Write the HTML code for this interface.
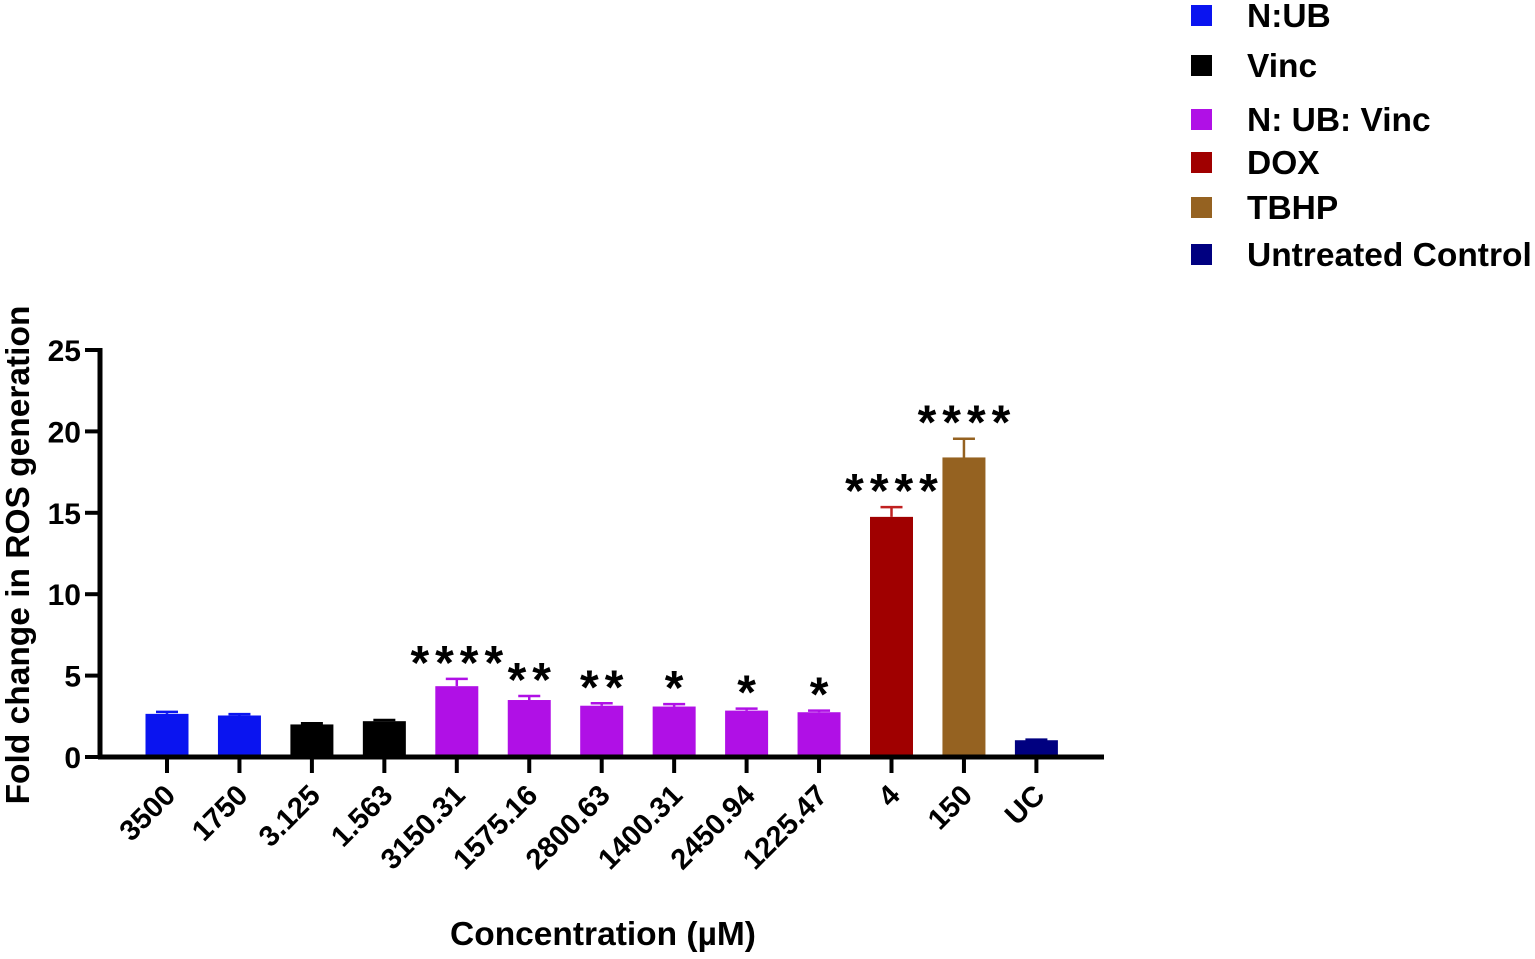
<!DOCTYPE html>
<html><head><meta charset="utf-8">
<style>
body{margin:0;background:#fff;width:1535px;height:954px;overflow:hidden;font-family:"Liberation Sans",sans-serif;}
svg text{font-family:"Liberation Sans",sans-serif;font-weight:bold;fill:#000;}
</style></head>
<body>
<svg id="chart" width="1535" height="954" xmlns="http://www.w3.org/2000/svg"></svg>
<script>
const categories=["3500","1750","3.125","1.563","3150.31","1575.16","2800.63","1400.31","2450.94","1225.47","4","150","UC"];
const values=[2.65,2.55,2.0,2.2,4.35,3.5,3.15,3.1,2.85,2.75,14.75,18.4,1.03];
const errors=[0.12,0.08,0.07,0.07,0.45,0.25,0.15,0.15,0.12,0.1,0.6,1.15,0.04];
const groups=[0,0,1,1,2,2,2,2,2,2,3,4,5];
const stars=["","","","","****","**","**","*","*","*","****","****",""];
const yTicks=[0,5,10,15,20,25];
const legendLabels=["N:UB","Vinc","N: UB: Vinc","DOX","TBHP","Untreated Control"];
const colors=["#0a14f0","#000000","#b010e6","#a00000","#956221","#000080"];
const errColors=["#0a14f0","#000000","#b010e6","#c02020","#956221","#000080"];

const svg=document.getElementById('chart');
const NS="http://www.w3.org/2000/svg";
const y0=757,yTop=350,yMax=25;
const yScale=v=>y0-(v/yMax)*(y0-yTop);
const x0=167,step=72.45,barW=43;
const xScale=i=>x0+i*step;
function mk(tag,attrs){const e=document.createElementNS(NS,tag);for(const k in attrs)e.setAttribute(k,attrs[k]);svg.appendChild(e);return e;}

categories.forEach((c,i)=>{
  const cx=xScale(i),top=yScale(values[i]);
  const r=mk('rect',{x:cx-barW/2,y:top,width:barW,height:y0-top,fill:colors[groups[i]]});
  
  
  const et=yScale(values[i]+errors[i]);
  const g=mk('path',{d:`M${cx} ${top}V${et}M${cx-11} ${et}H${cx+11}`,stroke:errColors[groups[i]],'stroke-width':2.5,fill:'none'});
  
  
  if(stars[i]){
    const t=mk('text',{x:cx+3,y:et,'text-anchor':'middle','font-size':48,'letter-spacing':'6'});
    t.textContent=stars[i];
    
    
  }
  const tk=mk('line',{x1:cx,y1:y0,x2:cx,y2:773,stroke:'#000','stroke-width':4});
  
  
  const lb=mk('text',{x:cx+10,y:797,'text-anchor':'end','font-size':29,transform:`rotate(-45 ${cx+10} 797)`});
  lb.textContent=c;
  
  
});

const ya=mk('line',{x1:100,y1:348,x2:100,y2:759,stroke:'#000','stroke-width':5});


const xa=mk('line',{x1:98,y1:757,x2:1104,y2:757,stroke:'#000','stroke-width':5});


yTicks.forEach(v=>{
  const y=yScale(v);
  const t=mk('line',{x1:85,y1:y,x2:100,y2:y,stroke:'#000','stroke-width':4});
  
  
  const l=mk('text',{x:81,y:y+11,'text-anchor':'end','font-size':30});
  l.textContent=v;
  
  
});
const yt=mk('text',{x:29,y:555,'text-anchor':'middle','font-size':33.5,transform:'rotate(-90 29 555)'});
yt.textContent='Fold change in ROS generation';


const xt=mk('text',{x:603,y:945,'text-anchor':'middle','font-size':33.5});
xt.textContent='Concentration (\u00b5M)';



const legY=[15,65,119,162,207,254];
legendLabels.forEach((l,i)=>{
  const r=mk('rect',{x:1191,y:legY[i]-10,width:21,height:21,fill:colors[i]});
  
  
  const t=mk('text',{x:1247,y:legY[i]+12,'font-size':33.5});
  t.textContent=l;
  
  
});
</script>
</body></html>
